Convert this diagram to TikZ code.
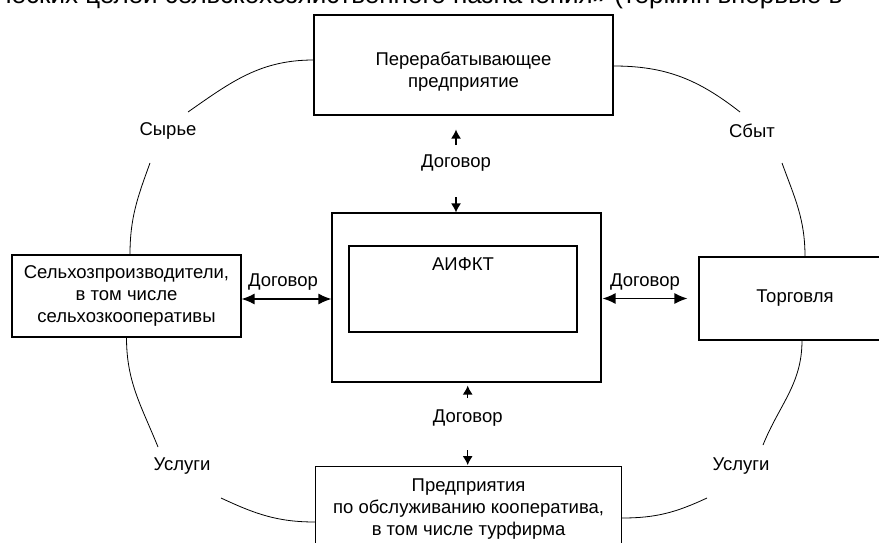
\documentclass[tikz,border=0pt]{standalone}
\usepackage{fontspec}
\setmainfont{Liberation Sans}
\usetikzlibrary{arrows.meta}

\tikzset{
  box/.style={draw, line width=1.1pt, inner sep=0pt, align=center},
  lbl/.style={inner sep=0pt, align=center},
  ring/.style={line width=0.8pt},
  arr/.style={line width=1.3pt, -{Latex[length=9pt,width=10pt]}},
  darr/.style={line width=1.3pt, {Latex[length=13pt,width=11pt]}-{Latex[length=13pt,width=11pt]}},
}

\begin{document}
\begin{tikzpicture}[x=1pt, y=1pt, font=\fontsize{18.5}{22}\selectfont]
  \clip (0,0) rectangle (879,-543);
  % line of the page above the scheme
  \node[lbl, anchor=base west, font=\fontsize{26}{30}\selectfont] (head) at (-2,-4)
    {ческих целей сельскохозяйственного назначения» (термин впервые в};
  % boxes
  \node[box, minimum width=299pt, minimum height=100pt] (proc) at (463.5,-65) {\rule{0pt}{27pt}Перерабатывающее\\предприятие};
  \node[box, minimum width=229pt, minimum height=82pt] (farm) at (126.5,-296) {Сельхозпроизводители,\\в том числе\\сельхозкооперативы};
  \node[box, minimum width=269pt, minimum height=169pt] (aifkt) at (466.5,-297.5) {};
  \node[box, minimum width=228pt, minimum height=86pt] (inner) at (463,-289) {};
  \node[lbl] (name) at (463,-264) {АИФКТ};
  \node[box, minimum width=192pt, minimum height=83pt] (trade) at (795,-298.5) {Торговля};
  \node[box, minimum width=306pt, minimum height=80.6pt] (serv) at (468.6,-507) {\rule{0pt}{17pt}Предприятия\\по обслуживанию кооператива,\\в том числе турфирма};
  % labels
  \node[lbl] (dtop) at (456,-163) {Договор};
  \node[lbl] (dbot) at (467.7,-418) {Договор};
  \node[lbl] (dleft) at (283,-282) {Договор};
  \node[lbl] (dright) at (645,-282) {Договор};
  \node[lbl] (syr) at (168,-131) {Сырье};
  \node[lbl] (sbyt) at (752,-131) {Сбыт};
  \node[lbl] (uslL) at (182,-466) {Услуги};
  \node[lbl] (uslR) at (741,-466) {Услуги};
  % contracts
  \draw[arr, shorten <=18pt, shorten >=14pt] (dtop.center) -- (dtop.center |- proc.south);
  \draw[arr, shorten <=34pt] (dtop.center) -- (dtop.center |- aifkt.north);
  \draw[arr, shorten <=20pt, shorten >=3pt] (dbot.center) -- (dbot.center |- aifkt.south);
  \draw[arr, shorten <=32pt, shorten >=1pt] (dbot.center) -- (dbot.center |- serv.north);
  \draw[darr] (farm.east |- 0,-299) -- (aifkt.west |- 0,-299);
  \draw[darr, shorten <=1pt, shorten >=11pt] (aifkt.east |- trade.west) -- (trade.west);
  % ring of flows
  \coordinate (syr-a) at (188,-112);
  \coordinate (syr-b) at (150,-163);
  \coordinate (sbyt-a) at (740,-112);
  \coordinate (sbyt-b) at (782,-163);
  \coordinate (uslL-a) at (158,-447);
  \coordinate (uslL-b) at (221,-498);
  \coordinate (uslR-a) at (707,-498);
  \coordinate (uslR-b) at (763,-445);
  \draw[ring] ([yshift=5pt]proc.west) to[out=180,in=35] (syr-a);
  \draw[ring] (syr-b) to[out=250,in=90] ([xshift=3.5pt]farm.north);
  \draw[ring] ([yshift=-1pt]proc.east) to[out=0,in=142] (sbyt-a);
  \draw[ring] (sbyt-b) to[out=-70,in=90] ([xshift=10pt]trade.north);
  \draw[ring] (farm.south) to[out=-90,in=112] (uslL-a);
  \draw[ring] (uslL-b) to[out=-25,in=180] ([yshift=-15pt]serv.west);
  \draw[ring] ([yshift=-11pt]serv.east) to[out=0,in=205] (uslR-a);
  \draw[ring] (uslR-b) to[out=68,in=270] ([xshift=7pt]trade.south);
\end{tikzpicture}
\end{document}
